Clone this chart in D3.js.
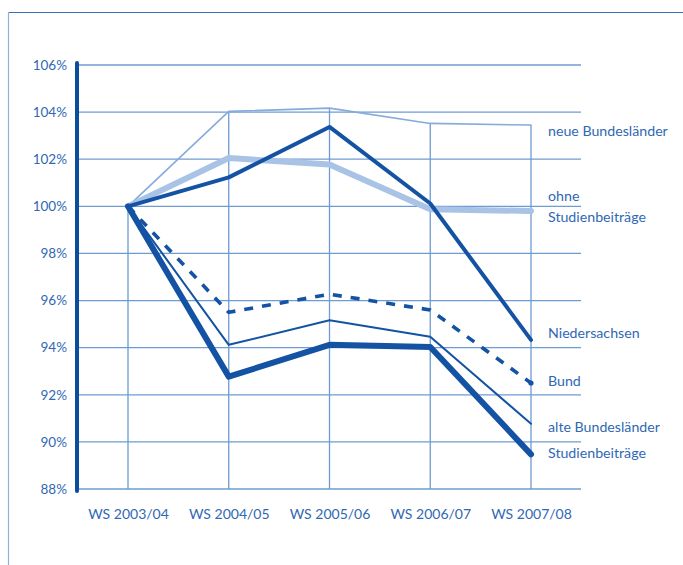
<!DOCTYPE html>
<html><head><meta charset="utf-8">
<script src="https://cdn.jsdelivr.net/npm/d3@7"></script>
<style>
html,body{margin:0;padding:0;background:#fff;}
svg text{font-family:Lato,"Open Sans",sans-serif;}
</style></head>
<body><svg id="c" width="683" height="565"></svg>
<script>
const categories = ["WS 2003/04","WS 2004/05","WS 2005/06","WS 2006/07","WS 2007/08"];
const yTicks = [88,90,92,94,96,98,100,102,104,106];
const neueBL = [100,104.03,104.17,103.52,103.45];
const ohneSB = [100,102.05,101.78,99.88,99.80];
const nieders = [100,101.23,103.37,100.12,94.33];
const bund = [100,95.5,96.27,95.6,92.5];
const alteBL = [100,94.12,95.16,94.46,90.77];
const mitSB = [100,92.77,94.12,94.03,89.47];
const seriesNames = ["neue Bundesländer","ohne Studienbeiträge","Niedersachsen","Bund","alte Bundesländer","Studienbeiträge"];

const svg = d3.select("#c");
const dark = "#1453a3", grid = "#6e9bd2", txt = "#3068b3";

const x = d3.scalePoint().domain(categories).range([128,531]);
const y = d3.scaleLinear().domain([88,106]).range([489,65]);

// frame
svg.append("line").attr("x1",8.5).attr("x2",683).attr("y1",12.5).attr("y2",12.5).attr("stroke","#3c6fb5").attr("stroke-width",1.2);
svg.append("line").attr("x1",8.5).attr("x2",8.5).attr("y1",12.5).attr("y2",565).attr("stroke","#8fb1dd").attr("stroke-width",1.2);

// horizontal grid
svg.append("g").selectAll("line").data(yTicks).join("line")
  .attr("x1",77).attr("x2",581).attr("y1",d=>y(d)).attr("y2",d=>y(d))
  .attr("stroke",grid).attr("stroke-width",1.3);

// vertical drop lines
const all = [neueBL,ohneSB,nieders,bund,alteBL,mitSB];
svg.append("g").selectAll("line").data(categories).join("line")
  .attr("x1",d=>x(d)).attr("x2",d=>x(d))
  .attr("y1",(d,i)=>y(d3.max(all,s=>s[i]))).attr("y2",y(88))
  .attr("stroke",grid).attr("stroke-width",1.3);

// y axis
const yAxis = d3.axisLeft(y).tickValues(yTicks).tickFormat(d=>d+"%").tickSize(0).tickPadding(10);
const ga = svg.append("g").attr("transform","translate(77,0)").call(yAxis);
ga.select(".domain").remove();
ga.selectAll("text").attr("fill",txt).attr("font-size",13.5);
svg.append("line").attr("x1",77).attr("x2",77).attr("y1",y(106)-2).attr("y2",y(88)+2)
  .attr("stroke","#0a4c9e").attr("stroke-width",4).attr("stroke-linecap","round");

// x axis labels
const xAxis = d3.axisBottom(x).tickSize(0).tickPadding(20);
const gx = svg.append("g").attr("transform",`translate(0,${y(88)})`).call(xAxis);
gx.select(".domain").remove();
gx.selectAll("text").attr("fill",txt).attr("font-size",14);

const line = d3.line().x((d,i)=>x(categories[i])).y(d=>y(d));
function draw(data,color,w,dash){
  const p = svg.append("path").datum(data).attr("d",line).attr("fill","none")
    .attr("stroke",color).attr("stroke-width",w).attr("stroke-linejoin","round").attr("stroke-linecap","round");
  if(dash) p.attr("stroke-dasharray",dash).attr("stroke-linecap","butt");
  return p;
}
draw(neueBL,"#86abdb",1.6);
draw(ohneSB,"#a9c3e6",6);
draw(alteBL,dark,2);
draw(mitSB,dark,6);
draw(nieders,dark,4);
draw(bund,dark,3.6,"9,9");
svg.append("circle").attr("cx",x(categories[4])).attr("cy",y(bund[4])).attr("r",2.6).attr("fill",dark);

// labels
const labels = [
  {t:["neue Bundesländer"],v:neueBL[4],dy:6},
  {t:["ohne","Studienbeiträge"],v:ohneSB[4],dy:-15},
  {t:["Niedersachsen"],v:nieders[4],dy:-7},
  {t:["Bund"],v:bund[4],dy:-2},
  {t:["alte Bundesländer"],v:alteBL[4],dy:3},
  {t:["Studienbeiträge"],v:mitSB[4],dy:-1}
];
const lg = svg.append("g");
labels.forEach(l=>{
  const te = lg.append("text").attr("x",548).attr("y",y(l.v)+l.dy+5).attr("fill",txt).attr("font-size",14.2);
  l.t.forEach((s,i)=>te.append("tspan").attr("x",548).attr("dy",i?21:0).text(s));
});
</script></body></html>
